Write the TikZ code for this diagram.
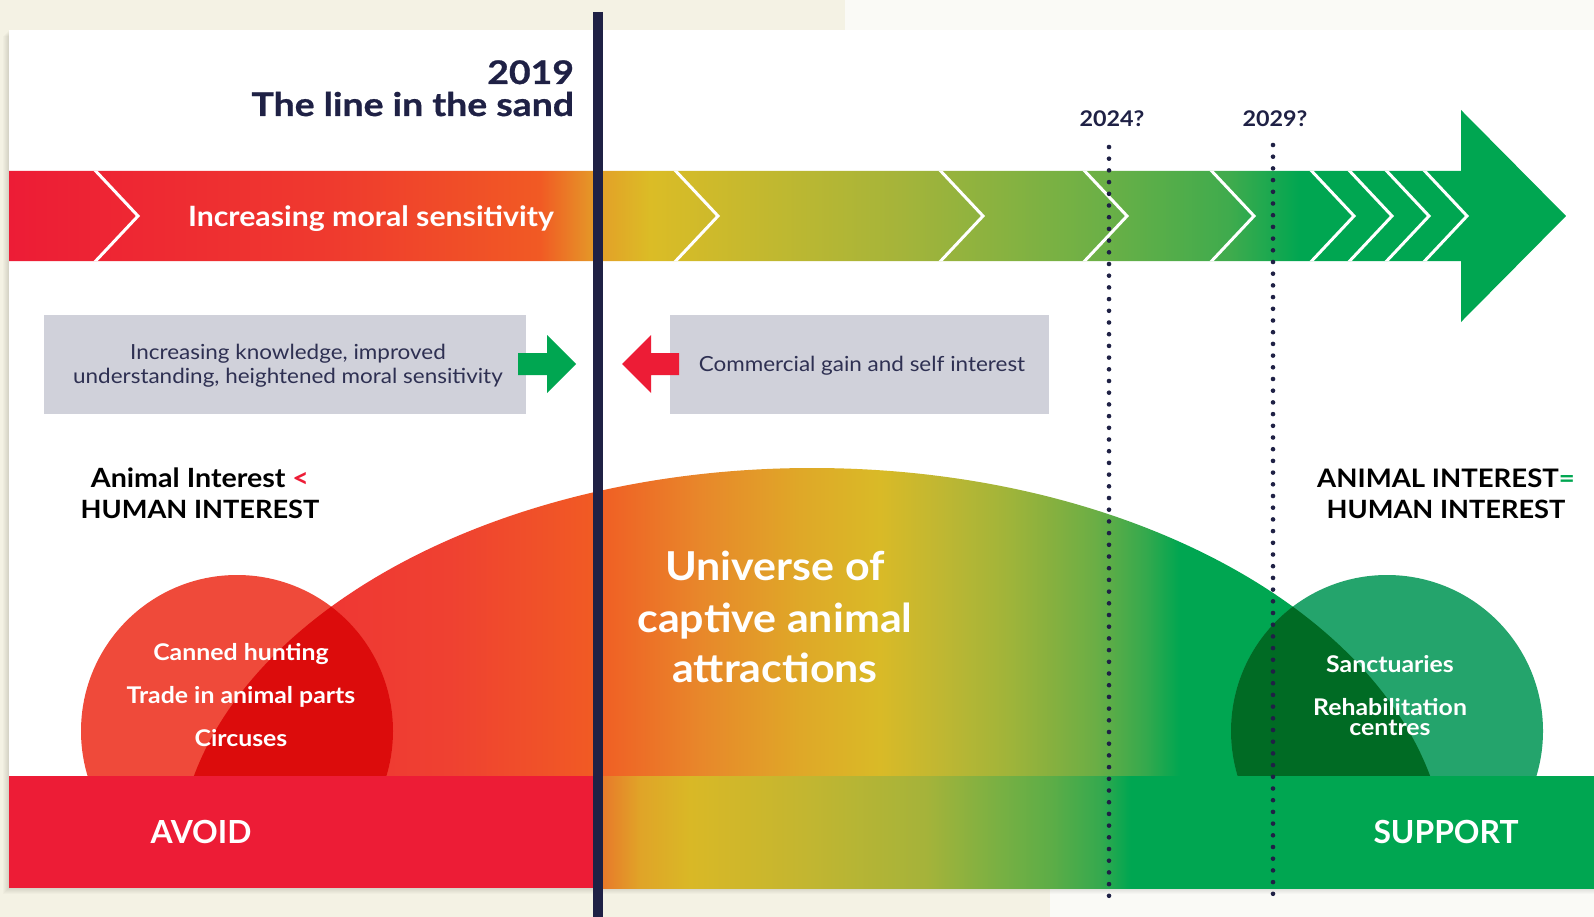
\documentclass[tikz,border=0pt]{standalone}
\usepackage{fontspec}
\setmainfont{Lato}[FakeStretch=1.08]
\newfontfamily\titlefam{Lato}[FakeStretch=1.15, BoldFeatures={FakeBold=0.8}]
\newfontfamily\plainlato{Lato}
\definecolor{cream}{HTML}{F4F2E4}
\definecolor{creamlt}{HTML}{FAFAF6}
\definecolor{navy}{HTML}{1F2145}
\definecolor{boxgray}{HTML}{D0D1DA}
\definecolor{boxtext}{HTML}{2E3052}
\definecolor{avoidred}{HTML}{ED1C36}
\definecolor{supgreen}{HTML}{00A651}
\definecolor{lcirc}{HTML}{EF4A3A}
\definecolor{lover}{HTML}{DC0C0C}
\definecolor{rcirc}{HTML}{24A46C}
\definecolor{rover}{HTML}{006B24}
% band stops
\definecolor{bA}{HTML}{ED1C36}
\definecolor{bB}{HTML}{EF3A2E}
\definecolor{bC}{HTML}{F15A24}
\definecolor{bD}{HTML}{E3A028}
\definecolor{bE}{HTML}{DBBC26}
\definecolor{bF}{HTML}{A5B43A}
\definecolor{bG}{HTML}{6CB046}
\definecolor{bH}{HTML}{3FAB4D}
\definecolor{bI}{HTML}{00A651}
% hump stops
\definecolor{hA}{HTML}{EE2C36}
\definecolor{hB}{HTML}{EF4131}
\definecolor{hC}{HTML}{F15A24}
\definecolor{hD}{HTML}{E8872A}
\definecolor{hE}{HTML}{DFA828}
\definecolor{hF}{HTML}{D9BA27}
\definecolor{hG}{HTML}{C0B732}
\definecolor{hH}{HTML}{9FB43A}
\definecolor{hI}{HTML}{86B03F}
\definecolor{hJ}{HTML}{6BAE45}
\definecolor{hK}{HTML}{35A94D}
\definecolor{hL}{HTML}{00A651}
% bottom stops
\definecolor{fA}{HTML}{E87A2A}
\definecolor{fB}{HTML}{E0A428}
\definecolor{fC}{HTML}{D9B826}
\definecolor{fD}{HTML}{C4B630}
\definecolor{fE}{HTML}{A5B33A}
\definecolor{fF}{HTML}{78B043}
\definecolor{fG}{HTML}{5CAD47}
\definecolor{fH}{HTML}{35A94E}
\definecolor{fI}{HTML}{00A651}
\pgfdeclarehorizontalshading{bandshade}{100bp}{color(0bp)=(bA); color(25bp)=(bA); color(35.31bp)=(bB); color(42.05bp)=(bC); color(43.98bp)=(bD); color(45.58bp)=(bE); color(53.61bp)=(bF); color(60.04bp)=(bG); color(64.21bp)=(bH); color(66.46bp)=(bI); color(100bp)=(bI)}
\pgfdeclarehorizontalshading{humpshade}{100bp}{color(0bp)=(hA); color(25bp)=(hA); color(35.4bp)=(hB); color(41bp)=(hC); color(45.4bp)=(hD); color(49.4bp)=(hE); color(52.6bp)=(hF); color(55bp)=(hG); color(57.8bp)=(hH); color(59.48bp)=(hI); color(61.2bp)=(hJ); color(63.2bp)=(hK); color(64.6bp)=(hL); color(100bp)=(hL)}
\pgfdeclarehorizontalshading{botshade}{100bp}{color(0bp)=(fA); color(25.25bp)=(fA); color(27.11bp)=(fB); color(29.62bp)=(fC); color(35.14bp)=(fD); color(41.47bp)=(fE); color(45.18bp)=(fF); color(47.79bp)=(fG); color(50.2bp)=(fH); color(51.71bp)=(fI); color(100bp)=(fI)}
\begin{document}
\begin{tikzpicture}[x=1pt,y=-1pt,
  txt/.style={inner sep=0pt, outer sep=0pt, anchor=base},
  titlef/.style={txt, anchor=base east, text=navy, font=\titlefam\bfseries\fontsize{32.5}{38}\selectfont},
  bandf/.style={txt, text=white, font=\bfseries\fontsize{28}{34}\selectfont},
  yearf/.style={txt, text=navy, font=\bfseries\fontsize{21.6}{25}\selectfont},
  boxf/.style={txt, text=boxtext, font=\fontsize{20.8}{25}\selectfont},
  interf/.style={txt, text=black, font=\bfseries\fontsize{25.5}{30}\selectfont},
  circf/.style={txt, text=white, font=\bfseries\fontsize{23}{27}\selectfont},
  univf/.style={txt, text=white, font=\bfseries\fontsize{39.8}{46}\selectfont},
  footf/.style={txt, text=white, font=\plainlato\bfseries\fontsize{31.8}{36}\selectfont},
  greybox/.style={fill=boxgray, inner sep=0pt, outer sep=0pt},
  dotline/.style={navy, line width=4.6pt, line cap=round, dash pattern=on 0pt off 11.7pt},
  chev/.style={white, line width=3pt}
]
\useasboundingbox (0,0) rectangle (1594,917);
% background
\fill[cream] (0,0) rectangle (1594,917);
\fill[creamlt] (845,0) rectangle (1594,30);
\fill[creamlt] (1050,888) rectangle (1594,917);
\foreach \i in {1,...,6} \fill[black,opacity=0.018] (9-\i,30+\i) rectangle (1594,888+\i);
\fill[white] (9,30) rectangle (1594,888);

% moral sensitivity band
\begin{scope}
\clip (9,171) -- (1461,171) -- (1461,110) -- (1566,216) -- (1461,322) -- (1461,261) -- (9,261) -- cycle;
\shade[shading=bandshade] (9,100) rectangle (1566,330);
\foreach \cx in {91,671,936,1080,1207,1307,1345,1382,1420}
  \draw[chev] (\cx,166) -- (\cx+47,216) -- (\cx,266);
\end{scope}
\node[bandf] (band) at (371,227) {Increasing moral sensitivity};

% title
\node[titlef] (yr) at (574,84) {2019};
\node[titlef] (title) at (574,116) {The line in the sand};

% years
\node[yearf] (y24) at (1112,127) {2024?};
\node[yearf] (y29) at (1275,127) {2029?};

% grey boxes
\node[greybox, minimum width=482pt, minimum height=99pt] (kbox) at (285,364.5) {};
\node[boxf] (k1) at (288,359) {Increasing knowledge, improved};
\node[boxf] (k2) at (288,383) {understanding, heightened moral sensitivity};
\node[greybox, minimum width=379pt, minimum height=99pt] (cbox) at (859.5,364.5) {};
\node[boxf] (c1) at (862,371) {Commercial gain and self interest};

% push arrows
\fill[supgreen] (518,353) -- (547,353) -- (547,335) -- (576,364) -- (547,393) -- (547,375) -- (518,375) -- cycle;
\fill[avoidred] (679,353) -- (651,353) -- (651,335) -- (622,364) -- (651,393) -- (651,375) -- (679,375) -- cycle;

% hump
\begin{scope}
\clip (812,868) ellipse [x radius=635pt, y radius=400pt];
\shade[shading=humpshade] (190,450) rectangle (1440,880);
\end{scope}

% circles
\fill[lcirc] (237,731) circle[radius=156pt];
\begin{scope}
\clip (237,731) circle[radius=156pt];
\fill[lover] (812,868) ellipse [x radius=635pt, y radius=400pt];
\end{scope}
\fill[rcirc] (1387,731) circle[radius=156pt];
\begin{scope}
\clip (1387,731) circle[radius=156pt];
\fill[rover] (812,868) ellipse [x radius=635pt, y radius=400pt];
\end{scope}

% bottom band
\fill[avoidred] (9,776) rectangle (598,888);
\shade[shading=botshade] (598,776) rectangle (1594,888);

% texts
\node[interf, font=\bfseries\fontsize{26.5}{30}\selectfont] (ai1) at (200,487) {Animal Interest \textcolor{avoidred}{<}};
\node[interf, font=\bfseries\fontsize{25.2}{30}\selectfont] (ai2) at (200,518) {HUMAN INTEREST};
\node[interf] (ae1) at (1446,487) {ANIMAL INTEREST\textcolor{supgreen}{=}};
\node[interf, font=\bfseries\fontsize{25.2}{30}\selectfont] (ae2) at (1446,518) {HUMAN INTEREST};

\node[circf] (l1) at (241,660) {Canned hunting};
\node[circf] (l2) at (241,703) {Trade in animal parts};
\node[circf] (l3) at (241,746) {Circuses};
\node[circf] (r1) at (1390,672) {Sanctuaries};
\node[circf] (r2) at (1390,715) {Rehabilitation};
\node[circf] (r3) at (1390,735) {centres};

\node[univf] (u1) at (775,580) {Universe of};
\node[univf] (u2) at (775,632) {captive animal};
\node[univf] (u3) at (775,682) {attractions};

\node[footf] (avoid) at (201,843) {AVOID};
\node[footf] (support) at (1446,843) {SUPPORT};

% dotted future lines
\coordinate (d1t) at (1109,147);
\coordinate (d1b) at (1109,903);
\coordinate (d2t) at (1273,145);
\coordinate (d2b) at (1273,903);
\draw[dotline] (d1t) -- (d1b);
\draw[dotline] (d2t) -- (d2b);

% line in the sand
\coordinate (lt) at (598,12);
\coordinate (lb) at (598,917);
\draw[navy, line width=10pt] (lt) -- (lb);
\end{tikzpicture}
\end{document}
